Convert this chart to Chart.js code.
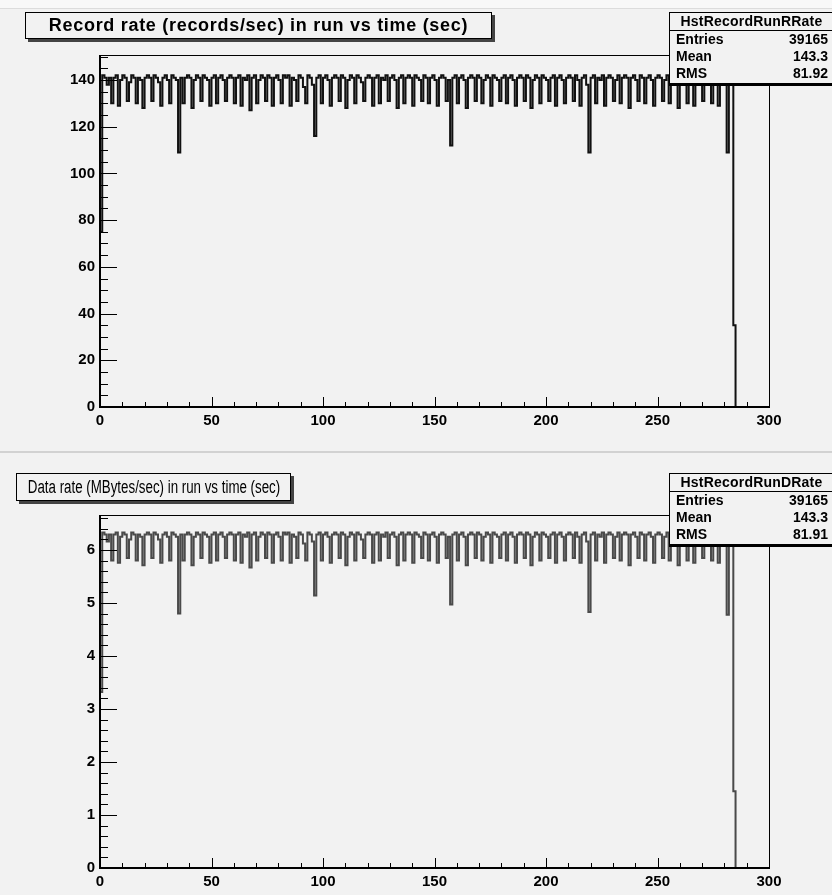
<!DOCTYPE html>
<html>
<head>
<meta charset="utf-8">
<script src="https://cdn.jsdelivr.net/npm/chart.js@4.4.0/dist/chart.umd.min.js"></script>
<style>
  body { margin: 0; background: #f2f2f2; width: 832px; height: 895px; overflow: hidden; position: relative;
         font-family: "Liberation Sans", Arial, sans-serif; }
  #topband { position: absolute; left: 0; top: 0; width: 832px; height: 8px; background: #f8f8f8; }
  .pad { position: absolute; left: 0; width: 832px; }
  #pad1 { top: 0; height: 445px; }
  #pad2 { top: 452px; height: 443px; }
  #sep1 { position: absolute; left: 0; top: 8px; width: 832px; height: 1px; background: #dcdcdc; }
  #sep2 { position: absolute; left: 0; top: 451px; width: 832px; height: 2px; background: #d2d2d2; }
  canvas { position: absolute; left: 0; top: 0; }
  .title { position: absolute; border: 1px solid #000; background: #f2f2f2; box-shadow: 3px 3px 0 #444;
           white-space: nowrap; color: #000; overflow: visible; }
  .title span { position: absolute; left: 50%; top: 0; transform-origin: center; }
  .stats { position: absolute; border: 1px solid #000; border-right: none; background: #f2f2f2;
           box-shadow: 0 2px 0 #000; font-size: 14px; font-weight: bold; color: #000; }
  .stats .sh { text-align: center; border-bottom: 1px solid #000; height: 17px; line-height: 17px; letter-spacing: 0.2px; }
  .stats .sr { display: flex; justify-content: space-between; padding: 0 5px 0 6px; height: 17px; line-height: 17px; }
</style>
</head>
<body>
<div id="topband"></div>
<div id="sep1"></div>
<div id="sep2"></div>
<div class="pad" id="pad1"><canvas id="recChart" width="832" height="445"></canvas></div>
<div class="pad" id="pad2"><canvas id="dataChart" width="832" height="443"></canvas></div>

<div class="title" style="left:25px;top:12px;width:465px;height:25px;line-height:25px;font-size:18px;font-weight:bold">
  <span style="transform:translateX(-50%);letter-spacing:0.7px">Record rate (records/sec) in run vs time (sec)</span></div>
<div class="stats" style="left:669px;top:12px;width:163px;height:70px">
  <div class="sh">HstRecordRunRRate</div>
  <div class="sr"><span>Entries</span><span>39165</span></div>
  <div class="sr"><span>Mean</span><span>143.3</span></div>
  <div class="sr"><span>RMS</span><span>81.92</span></div>
</div>

<div class="title" style="left:16px;top:473px;width:273px;height:26px;line-height:26px;font-size:18px">
  <span style="transform:translateX(-50%) scaleX(0.74)">Data rate (MBytes/sec) in run vs time (sec)</span></div>
<div class="stats" style="left:669px;top:473px;width:163px;height:70px">
  <div class="sh">HstRecordRunDRate</div>
  <div class="sr"><span>Entries</span><span>39165</span></div>
  <div class="sr"><span>Mean</span><span>143.3</span></div>
  <div class="sr"><span>RMS</span><span>81.91</span></div>
</div>

<script>
// one bin per second, 0..300 s
const binWidth = 1;
const xTicks = [0, 50, 100, 150, 200, 250, 300];
const recTicks = [0, 20, 40, 60, 80, 100, 120, 140];
const dataTicks = [0, 1, 2, 3, 4, 5, 6];

// records/sec per bin
const recordRate = [
  75, 142, 141, 138, 141, 130, 141, 142, 129, 140, 142, 141, 131, 139, 142, 141, 130, 141, 140, 128,
  141, 142, 141, 131, 142, 141, 139, 129, 141, 142, 140, 130, 142, 141, 140, 109, 141, 130, 141, 142,
  141, 128, 140, 142, 141, 131, 142, 141, 140, 129, 141, 142, 130, 141, 142, 140, 131, 141, 142, 141,
  130, 141, 142, 129, 141, 140, 142, 127, 141, 142, 130, 140, 142, 141, 131, 142, 141, 129, 141, 142,
  140, 130, 142, 141, 142, 129, 141, 140, 131, 142, 141, 137, 130, 142, 141, 138, 116, 141, 142, 130,
  141, 142, 140, 129, 141, 142, 141, 131, 142, 141, 128, 140, 142, 141, 130, 142, 141, 139, 131, 141,
  142, 141, 129, 141, 142, 130, 141, 140, 142, 131, 141, 142, 140, 128, 141, 142, 130, 141, 142, 141,
  129, 142, 141, 140, 131, 142, 141, 130, 141, 142, 140, 129, 141, 142, 141, 131, 140, 112, 141, 142,
  130, 141, 142, 140, 128, 141, 142, 141, 131, 142, 141, 130, 140, 142, 141, 129, 142, 141, 140, 131,
  141, 142, 130, 141, 142, 140, 129, 141, 142, 141, 131, 142, 141, 128, 140, 142, 141, 130, 142, 141,
  140, 131, 141, 142, 129, 141, 142, 140, 130, 141, 142, 141, 131, 142, 140, 129, 141, 142, 138, 109,
  141, 142, 130, 141, 140, 142, 129, 141, 142, 141, 131, 140, 142, 130, 141, 142, 141, 128, 141, 142,
  140, 131, 142, 141, 130, 141, 142, 140, 129, 141, 142, 141, 131, 140, 142, 130, 141, 142, 141, 128,
  141, 142, 140, 130, 141, 142, 129, 141, 140, 142, 131, 141, 142, 141, 130, 140, 142, 129, 141, 142,
  141, 109, 141, 142, 35, 0, 0, 0, 0, 0, 0, 0, 0, 0, 0, 0, 0, 0, 0, 0
];

// MBytes/sec per bin
const dataRate = [
  3.32, 6.33, 6.29, 6.16, 6.29, 5.80, 6.29, 6.33, 5.76, 6.25, 6.33, 6.29, 5.85, 6.20, 6.33, 6.29, 5.80, 6.29, 6.25, 5.71,
  6.29, 6.33, 6.29, 5.85, 6.33, 6.29, 6.20, 5.76, 6.29, 6.33, 6.25, 5.80, 6.33, 6.29, 6.25, 4.80, 6.29, 5.80, 6.29, 6.33,
  6.29, 5.71, 6.25, 6.33, 6.29, 5.85, 6.33, 6.29, 6.25, 5.76, 6.29, 6.33, 5.80, 6.29, 6.33, 6.25, 5.85, 6.29, 6.33, 6.29,
  5.80, 6.29, 6.33, 5.76, 6.29, 6.25, 6.33, 5.67, 6.29, 6.33, 5.80, 6.25, 6.33, 6.29, 5.85, 6.33, 6.29, 5.76, 6.29, 6.33,
  6.25, 5.80, 6.33, 6.29, 6.33, 5.76, 6.29, 6.25, 5.85, 6.33, 6.29, 6.12, 5.80, 6.33, 6.29, 6.16, 5.14, 6.29, 6.33, 5.80,
  6.29, 6.33, 6.25, 5.76, 6.29, 6.33, 6.29, 5.85, 6.33, 6.29, 5.71, 6.25, 6.33, 6.29, 5.80, 6.33, 6.29, 6.20, 5.85, 6.29,
  6.33, 6.29, 5.76, 6.29, 6.33, 5.80, 6.29, 6.25, 6.33, 5.85, 6.29, 6.33, 6.25, 5.71, 6.29, 6.33, 5.80, 6.29, 6.33, 6.29,
  5.76, 6.33, 6.29, 6.25, 5.85, 6.33, 6.29, 5.80, 6.29, 6.33, 6.25, 5.76, 6.29, 6.33, 6.29, 5.85, 6.25, 4.97, 6.29, 6.33,
  5.80, 6.29, 6.33, 6.25, 5.71, 6.29, 6.33, 6.29, 5.85, 6.33, 6.29, 5.80, 6.25, 6.33, 6.29, 5.76, 6.33, 6.29, 6.25, 5.85,
  6.29, 6.33, 5.80, 6.29, 6.33, 6.25, 5.76, 6.29, 6.33, 6.29, 5.85, 6.33, 6.29, 5.71, 6.25, 6.33, 6.29, 5.80, 6.33, 6.29,
  6.25, 5.85, 6.29, 6.33, 5.76, 6.29, 6.33, 6.25, 5.80, 6.29, 6.33, 6.29, 5.85, 6.33, 6.25, 5.76, 6.29, 6.33, 6.16, 4.83,
  6.29, 6.33, 5.80, 6.29, 6.25, 6.33, 5.76, 6.29, 6.33, 6.29, 5.85, 6.25, 6.33, 5.80, 6.29, 6.33, 6.29, 5.71, 6.29, 6.33,
  6.25, 5.85, 6.33, 6.29, 5.80, 6.29, 6.33, 6.25, 5.76, 6.29, 6.33, 6.29, 5.85, 6.25, 6.33, 5.80, 6.29, 6.33, 6.29, 5.71,
  6.29, 6.33, 6.25, 5.80, 6.29, 6.33, 5.76, 6.29, 6.25, 6.33, 5.85, 6.29, 6.33, 6.29, 5.80, 6.25, 6.33, 5.76, 6.29, 6.33,
  6.29, 4.78, 6.29, 6.33, 1.45, 0, 0, 0, 0, 0, 0, 0, 0, 0, 0, 0, 0, 0, 0, 0
];

// histogram as step line: start at (0,0), each bin holds until the next edge
function histPoints(vals) {
  const pts = [{ x: 0, y: 0 }];
  vals.forEach((v, i) => pts.push({ x: i * binWidth, y: v }));
  pts.push({ x: vals.length * binWidth, y: vals[vals.length - 1] });
  return pts;
}

// ROOT-ish frame with inward ticks
const rootFrame = {
  id: "rootFrame",
  afterDraw(chart, args, opts) {
    const { ctx, chartArea: a, scales: { x, y } } = chart;
    ctx.save();
    ctx.strokeStyle = "#000";
    ctx.lineWidth = 1;
    ctx.strokeRect(Math.round(a.left) + 0.5, Math.round(a.top) + 0.5,
                   Math.round(a.right - a.left), Math.round(a.bottom - a.top));
    ctx.lineWidth = 2;
    ctx.beginPath();
    ctx.moveTo(Math.round(a.left), a.top);
    ctx.lineTo(Math.round(a.left), Math.round(a.bottom));
    ctx.lineTo(a.right, Math.round(a.bottom));
    ctx.stroke();

    ctx.lineWidth = 1;
    ctx.beginPath();
    for (let k = 0; k <= 30; k++) {
      const px = Math.round(x.getPixelForValue(k * 10)) + 0.5;
      const len = k % 5 === 0 ? 10 : 5;
      ctx.moveTo(px, a.bottom);
      ctx.lineTo(px, a.bottom - len);
    }
    for (let k = 0; k * opts.minor <= y.max; k++) {
      const py = Math.round(y.getPixelForValue(k * opts.minor)) + 0.5;
      const len = k % opts.perMajor === 0 ? 17 : 8;
      ctx.moveTo(a.left, py);
      ctx.lineTo(a.left + len, py);
    }
    ctx.stroke();
    ctx.restore();
  }
};

const tickFont = { family: "Liberation Sans", size: 15, weight: "bold" };

function makeChart(id, vals, yMax, yTicks, minor, perMajor, lineColor, pad, xHeight) {
  return new Chart(document.getElementById(id), {
    type: "line",
    data: {
      datasets: [{
        data: histPoints(vals),
        stepped: "before",
        borderColor: lineColor,
        borderWidth: 2,
        pointRadius: 0,
        fill: false
      }]
    },
    options: {
      responsive: false,
      animation: false,
      layout: { padding: pad },
      scales: {
        x: {
          type: "linear",
          min: 0,
          max: 300,
          afterBuildTicks: s => { s.ticks = xTicks.map(v => ({ value: v })); },
          afterFit: s => { s.height = xHeight; },
          grid: { display: false, drawTicks: false },
          border: { display: false },
          ticks: { font: tickFont, color: "#000", padding: 5, maxRotation: 0 }
        },
        y: {
          min: 0,
          max: yMax,
          afterBuildTicks: s => { s.ticks = yTicks.map(v => ({ value: v })); },
          afterFit: s => { s.width = 40; },
          grid: { display: false, drawTicks: false },
          border: { display: false },
          ticks: { font: tickFont, color: "#000", padding: 5 }
        }
      },
      plugins: {
        legend: { display: false },
        tooltip: { enabled: false },
        rootFrame: { minor, perMajor }
      }
    },
    plugins: [rootFrame]
  });
}

makeChart("recChart", recordRate, 150.7, recTicks, 5, 4, "#111",
  { left: 60, right: 63, top: 55, bottom: 8 }, 30);
makeChart("dataChart", dataRate, 6.66, dataTicks, 0.2, 5, "#4a4a4a",
  { left: 60, right: 63, top: 63, bottom: 5 }, 22);
</script>
</body>
</html>
